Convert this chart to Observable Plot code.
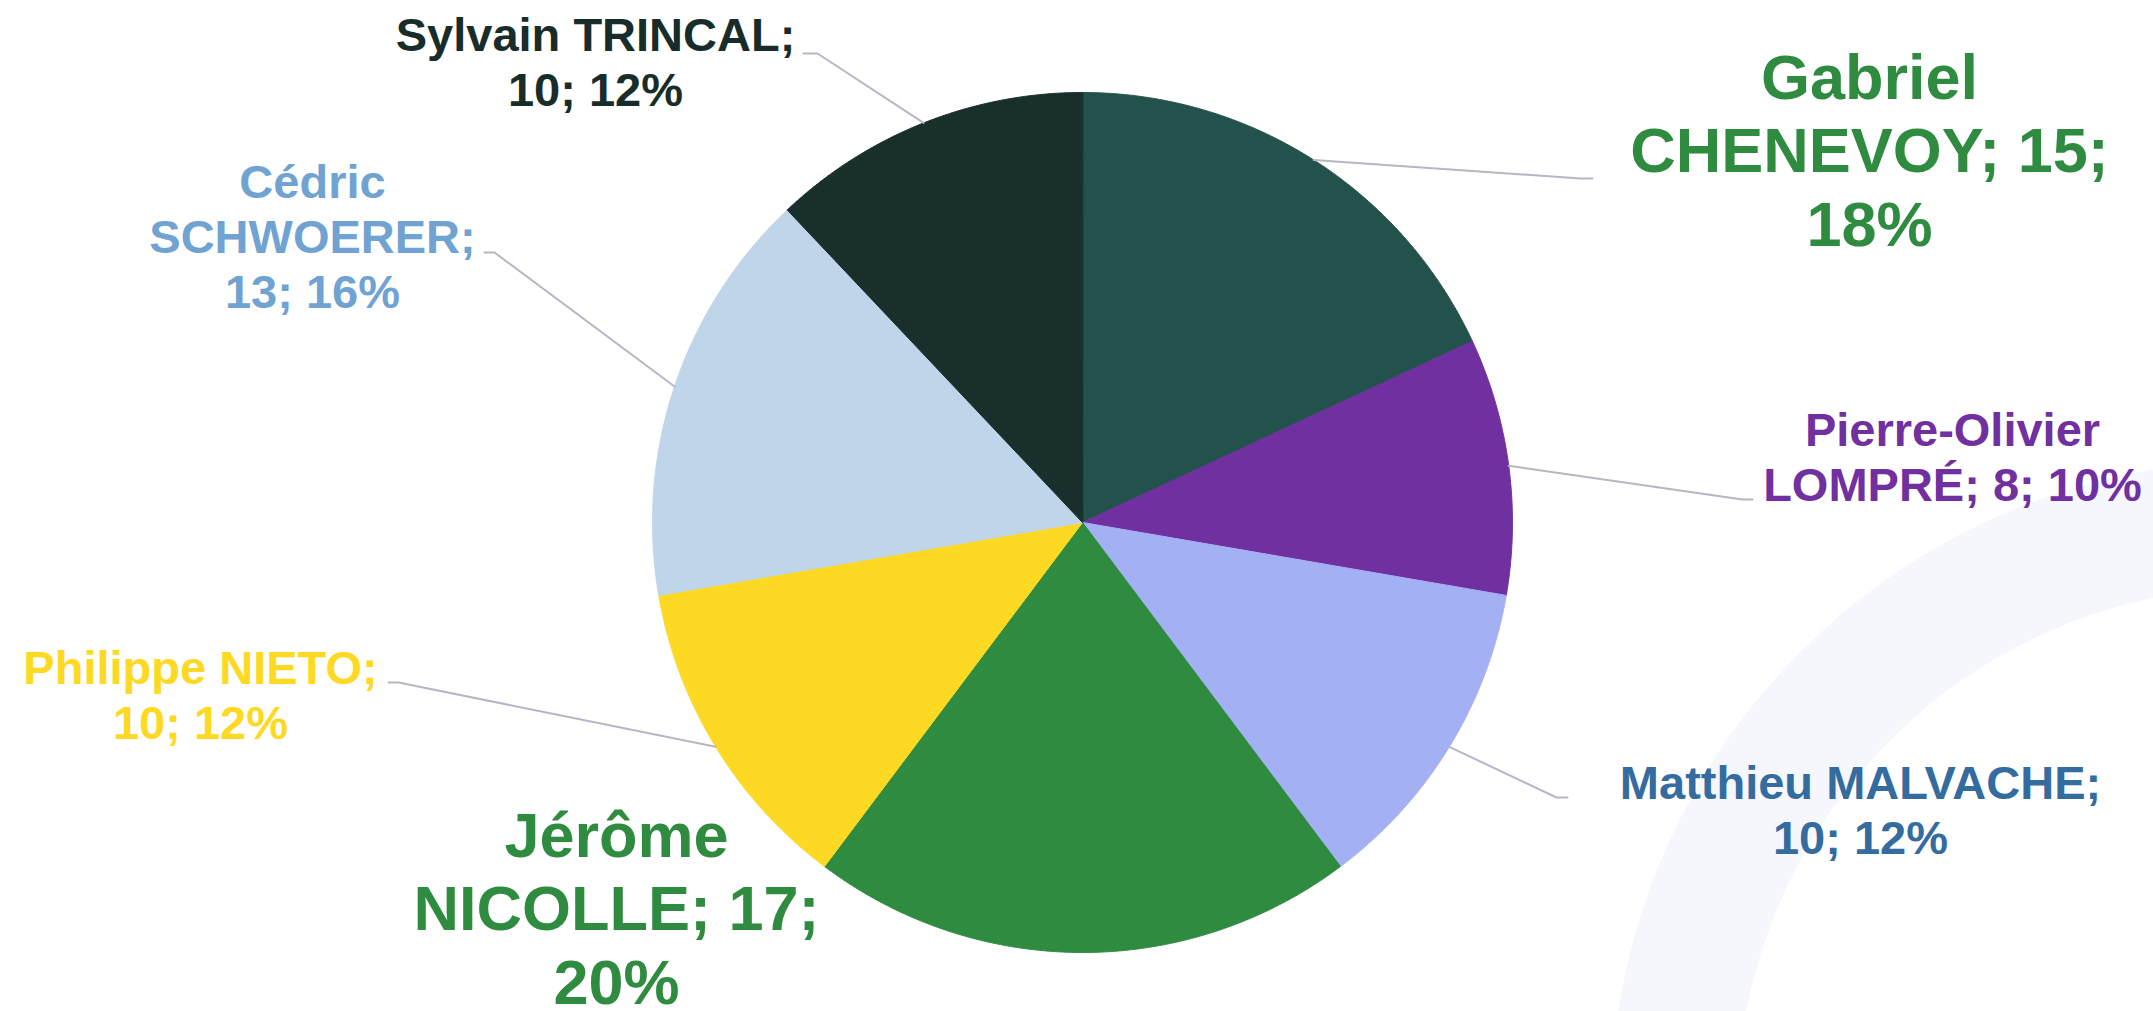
<!DOCTYPE html>
<html>
<head>
<meta charset="utf-8">
<script src="https://cdn.jsdelivr.net/npm/d3@7"></script>
<script src="https://cdn.jsdelivr.net/npm/@observablehq/plot@0.6"></script>
<style>
  html, body { margin: 0; padding: 0; background: #ffffff; }
  #chart { width: 2153px; height: 1011px; overflow: hidden; }
</style>
</head>
<body>
<div id="chart"></div>
<script>
// ---- data ----
const firstNames = ["Gabriel", "Pierre-Olivier", "Matthieu", "Jérôme", "Philippe", "Cédric", "Sylvain"];
const lastNames  = ["CHENEVOY", "LOMPRÉ", "MALVACHE", "NICOLLE", "NIETO", "SCHWOERER", "TRINCAL"];
const values     = [15, 8, 10, 17, 10, 13, 10];
const shares     = [18, 10, 12, 20, 12, 16, 12];   // percentages as printed
const sliceColors = ["#23514B", "#7030A0", "#A3B0F4", "#2F8B40", "#FDD923", "#BED5EA", "#182F2C"];
const labelColors = ["#2F8B40", "#7030A0", "#346C9F", "#2F8B40", "#FDD923", "#70A3D2", "#182D29"];

// ---- layout (pixels) ----
const W = 2153, H = 1011;
const CX = 1082, CY = 522, R = 430;
const labelSize = [63, 47, 47, 63, 47, 47, 47];
const wrapCounts = [[1, 2, 1], [1, 3], [2, 2], [1, 2, 1], [2, 2], [1, 1, 2], [2, 2]];
const labelAnchor = [[1869, 245], [1952, 500], [1860, 853], [616, 1003], [200, 738], [312, 307], [595, 105]];
const leaderBends = [
  [[1580, 178], [1592, 178]],
  [[1742, 499], [1752, 499]],
  [[1556, 797], [1567, 797]],
  null,
  [[398, 682], [388, 682]],
  [[494, 252], [484, 252]],
  [[817, 53], [803, 53]]
];
const ring = {x: 2261, y: 1111, r: 588, w: 126, color: "#F5F7FC"};
const shadowSteps = [7, 5, 3, 1];

// ---- geometry from data ----
const arcs = d3.pie().sort(null)(values);
const px = a => CX + R * Math.sin(a);
const py = a => CY - R * Math.cos(a);

const slicePts = [];
arcs.forEach((a, i) => {
  slicePts.push({i, x: CX, y: CY});
  const n = Math.max(2, Math.ceil((a.endAngle - a.startAngle) / 0.004));
  for (let k = 0; k <= n; k++) {
    const t = a.startAngle + (a.endAngle - a.startAngle) * k / n;
    slicePts.push({i, x: px(t), y: py(t)});
  }
});

const leaderPts = [];
arcs.forEach((a, i) => {
  if (!leaderBends[i]) return;
  const m = (a.startAngle + a.endAngle) / 2;
  leaderPts.push({i, x: px(m), y: py(m)});
  leaderBends[i].forEach(([x, y]) => leaderPts.push({i, x, y}));
});

const labels = values.map((v, i) => {
  const tokens = `${firstNames[i]} ${lastNames[i]}; ${v}; ${shares[i]}%`.split(" ");
  const lines = [];
  let k = 0;
  wrapCounts[i].forEach(c => { lines.push(tokens.slice(k, k + c).join(" ")); k += c; });
  return {x: labelAnchor[i][0], y: labelAnchor[i][1], text: lines.join("\n"), color: labelColors[i], size: labelSize[i]};
});

const chart = Plot.plot({
  width: W,
  height: H,
  margin: 0,
  x: {type: "identity", axis: null},
  y: {type: "identity", axis: null},
  style: {background: "#ffffff", fontFamily: "'Liberation Sans', Arial, sans-serif"},
  marks: [
    Plot.dot([ring], {x: "x", y: "y", r: ring.r, stroke: ring.color, strokeWidth: ring.w, fill: "none"}),
    Plot.dot(shadowSteps, {x: () => CX + 3, y: () => CY + 4, r: d => R + d, fill: "#000", fillOpacity: 0.035, stroke: "none"}),
    Plot.line(slicePts, {x: "x", y: "y", z: "i", fill: d => sliceColors[d.i], stroke: d => sliceColors[d.i], strokeWidth: 1, curve: "linear-closed"}),
    Plot.line(leaderPts, {x: "x", y: "y", z: "i", stroke: "#B6B6C6", strokeWidth: 2, curve: "linear"}),
    Plot.text(labels, {
      x: "x", y: "y", text: "text",
      fill: d => d.color, fontSize: d => d.size, fontWeight: "bold",
      textAnchor: "middle", lineAnchor: "bottom", lineHeight: 1.16
    })
  ]
});

document.getElementById("chart").appendChild(chart);
</script>
</body>
</html>
